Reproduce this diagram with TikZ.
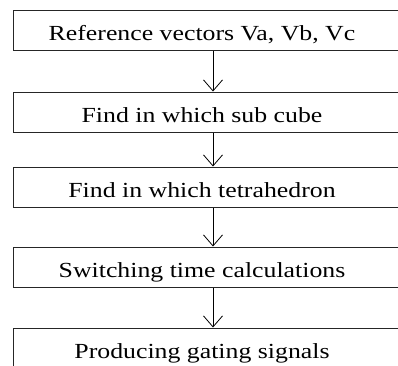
\documentclass[tikz,border=0pt]{standalone}
\usepackage{fontspec}
\setmainfont{Liberation Serif}[FakeStretch=1.2]
\usetikzlibrary{arrows.meta, positioning}

\begin{document}
\begin{tikzpicture}[
  x=1pt, y=1pt,
  every node/.style = {
    draw=black!85,
    font=\fontsize{21.5}{24}\selectfont,
    minimum width=404pt,
    minimum height=40pt,
    inner sep=0pt,
    text height=22pt,
    text depth=2pt,
    line width=1pt,
    execute at end node={\hspace*{26pt}}
  },
  arrow/.style = {-{Straight Barb[length=11pt, width=19pt, line width=0.8pt]}, line width=0.8pt}
]

\useasboundingbox (0,0) rectangle (398,-365);
\clip (-5,5) rectangle (403,-370);

% Steps (top to bottom)
\node (ref) at (215,-30.5) {Reference vectors Va, Vb, Vc};
\node (cube) at (215,-112) {Find in which sub cube};
\node (tetra) at (215,-187) {Find in which tetrahedron};
\node (time) at (215,-267) {Switching time calculations};
\node (gate) at (215,-348) {Producing gating signals};

% Flow arrows
\draw[arrow] (ref.south -| 213,0) -- (cube.north -| 213,0);
\draw[arrow] (cube.south -| 213,0) -- (tetra.north -| 213,0);
\draw[arrow] (tetra.south -| 213,0) -- (time.north -| 213,0);
\draw[arrow] (time.south -| 213,0) -- (gate.north -| 213,0);

\end{tikzpicture}
\end{document}
